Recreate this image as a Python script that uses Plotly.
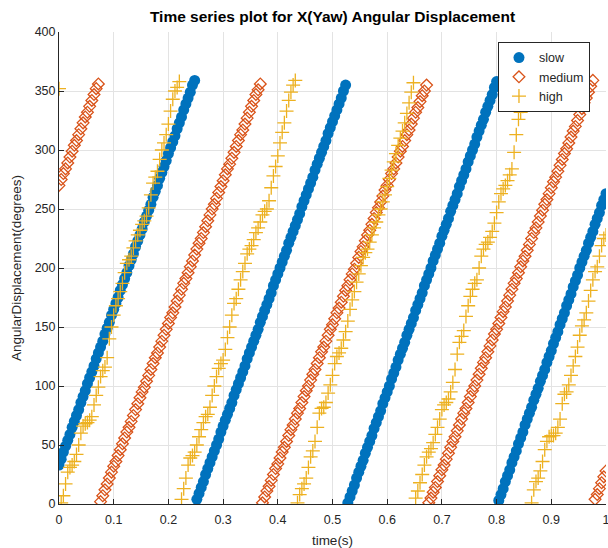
import numpy as np
import plotly.graph_objects as go

# sample times (s), 250 Hz
dt = 0.004
t = np.round(np.arange(251) * dt, 3)

slow = [
    33, 38, 44, 49, 54, 59, 65, 70, 75, 80, 86, 91, 96, 102, 107, 112, 117, 123, 128, 133,
    138, 144, 149, 154, 160, 165, 170, 175, 181, 186, 191, 196, 202, 207, 212, 218, 223, 228, 233, 239,
    244, 249, 254, 260, 265, 270, 276, 281, 286, 291, 297, 302, 307, 312, 318, 323, 328, 334, 339, 344,
    349, 355, 359, 4, 9, 14, 19, 25, 30, 35, 40, 45, 50, 55, 61, 66, 71, 76, 81, 86,
    92, 97, 102, 107, 112, 117, 123, 128, 133, 138, 143, 148, 154, 159, 164, 169, 174, 179, 185, 190,
    195, 200, 205, 210, 215, 221, 226, 231, 236, 241, 246, 252, 257, 262, 267, 272, 277, 283, 288, 293,
    298, 303, 308, 314, 319, 324, 329, 334, 339, 344, 350, 355, 1, 6, 11, 16, 22, 27, 32, 37,
    43, 48, 53, 58, 64, 69, 74, 79, 85, 90, 95, 100, 106, 111, 116, 122, 127, 132, 137, 143,
    148, 153, 158, 164, 169, 174, 179, 185, 190, 195, 200, 206, 211, 216, 221, 227, 232, 237, 242, 248,
    253, 258, 263, 269, 274, 279, 284, 290, 295, 300, 305, 311, 316, 321, 326, 332, 337, 342, 347, 353,
    358, 3, 8, 13, 19, 24, 29, 35, 40, 45, 51, 56, 61, 67, 72, 77, 82, 88, 93, 98,
    104, 109, 114, 120, 125, 130, 136, 141, 146, 152, 157, 162, 168, 173, 178, 184, 189, 194, 200, 205,
    210, 215, 221, 226, 231, 237, 242, 247, 253, 258, 263,
]

medium = [
    270, 275, 280, 284, 289, 294, 299, 304, 308, 313, 318, 323, 328, 332, 337, 342, 347, 352, 356, 2,
    7, 12, 17, 22, 27, 32, 36, 41, 46, 51, 56, 61, 65, 70, 75, 80, 85, 90, 95, 99,
    104, 109, 114, 119, 124, 128, 133, 138, 143, 148, 153, 158, 162, 167, 172, 177, 182, 187, 191, 196,
    201, 206, 211, 216, 221, 225, 230, 235, 240, 245, 250, 254, 259, 264, 269, 274, 279, 284, 288, 293,
    298, 303, 308, 313, 317, 322, 327, 332, 337, 342, 347, 351, 356, 1, 6, 11, 15, 20, 25, 30,
    34, 39, 44, 48, 53, 58, 63, 67, 72, 77, 81, 86, 91, 96, 100, 105, 110, 114, 119, 124,
    129, 133, 138, 143, 148, 152, 157, 162, 166, 171, 176, 181, 185, 190, 195, 199, 204, 209, 214, 218,
    223, 228, 232, 237, 242, 247, 251, 256, 261, 266, 270, 275, 280, 284, 289, 294, 299, 303, 308, 313,
    317, 322, 327, 332, 336, 341, 346, 350, 355, 1, 5, 10, 14, 19, 24, 29, 33, 38, 43, 48,
    53, 57, 62, 67, 72, 77, 81, 86, 91, 96, 100, 105, 110, 115, 120, 124, 129, 134, 139, 144,
    148, 153, 158, 163, 167, 172, 177, 182, 187, 191, 196, 201, 206, 210, 215, 220, 225, 230, 234, 239,
    244, 249, 254, 258, 263, 268, 273, 277, 282, 287, 292, 297, 301, 306, 311, 316, 320, 325, 330, 335,
    340, 344, 349, 354, 359, 4, 8, 13, 18, 23, 28,
]

high = [
    352, 1, 7, 17, 27, 31, 33, 36, 42, 50, 60, 66, 68, 69, 71, 74, 84, 92, 99, 108,
    113, 116, 124, 140, 150, 160, 168, 174, 180, 187, 196, 204, 207, 210, 217, 223, 228, 232, 237, 240,
    244, 251, 262, 272, 277, 282, 292, 300, 306, 313, 322, 333, 343, 350, 353, 358, 4, 13, 22, 33,
    39, 41, 44, 50, 57, 63, 69, 74, 76, 82, 92, 100, 108, 115, 119, 122, 131, 141, 150, 160,
    170, 174, 182, 190, 197, 204, 212, 216, 219, 224, 230, 234, 239, 245, 248, 250, 257, 268, 278, 286,
    295, 306, 315, 323, 333, 342, 349, 355, 359, 1, 8, 13, 17, 22, 31, 40, 45, 53, 65, 77,
    81, 82, 86, 94, 101, 109, 119, 125, 128, 132, 139, 146, 155, 165, 173, 180, 188, 195, 202, 209,
    213, 216, 222, 228, 234, 239, 245, 250, 256, 262, 269, 276, 283, 290, 297, 304, 310, 316, 323, 331,
    340, 349, 357, 5, 11, 18, 25, 33, 40, 44, 47, 52, 59, 65, 72, 80, 84, 86, 89, 95,
    103, 114, 127, 137, 142, 147, 159, 168, 176, 182, 187, 190, 200, 210, 216, 220, 222, 226, 231, 238,
    247, 256, 263, 267, 270, 274, 279, 284, 298, 313, 326, 332, 337, 341, 345, 355, 1, 12, 19, 22,
    28, 36, 46, 53, 57, 58, 58, 60, 65, 72, 85, 93, 95, 101, 109, 117, 125, 133, 143, 151,
    156, 162, 172, 181, 190, 197, 201, 210, 219, 225, 228,
]

x_ticks = [0, 0.1, 0.2, 0.3, 0.4, 0.5, 0.6, 0.7, 0.8, 0.9, 1]
x_tick_labels = ["0", "0.1", "0.2", "0.3", "0.4", "0.5", "0.6", "0.7", "0.8", "0.9", "1"]
y_ticks = [0, 50, 100, 150, 200, 250, 300, 350, 400]

fig = go.Figure()

fig.add_scatter(x=t, y=slow, mode="markers", name="slow",
                marker=dict(symbol="circle", size=11, color="#0072BD",
                            line=dict(width=0)))
fig.add_scatter(x=t, y=medium, mode="markers", name="medium",
                marker=dict(symbol="diamond-open", size=9, color="#D95319",
                            line=dict(width=1.3, color="#D95319")))
fig.add_scatter(x=t, y=high, mode="markers", name="high",
                marker=dict(symbol="cross-thin", size=10, color="#EDB120",
                            line=dict(width=1.3, color="#EDB120")))

axis_style = dict(showline=True, linecolor="#262626", linewidth=1,
                  ticks="inside", ticklen=5, tickcolor="#262626",
                  showgrid=True, gridcolor="#e3e3e3", gridwidth=1,
                  zeroline=False, automargin=False, ticklabeloverflow="allow",
                  tickfont=dict(size=12.5, color="#262626"))

fig.update_xaxes(range=[0, 1], tickvals=x_ticks, ticktext=x_tick_labels,
                 ticklabelstandoff=4,
                 title=dict(text="time(s)", font=dict(size=13.5, color="#262626"), standoff=12),
                 **axis_style)
fig.update_yaxes(range=[0, 400], tickvals=y_ticks,
                 title=dict(text="AngularDisplacement(degrees)", font=dict(size=13.5, color="#262626"), standoff=9),
                 **axis_style)

fig.update_layout(
    width=608, height=548,
    margin=dict(l=59, r=2, t=32, b=44),
    paper_bgcolor="white", plot_bgcolor="white",
    font=dict(family="Liberation Sans, Arial, sans-serif", color="#262626"),
    title=dict(text="<b>Time series plot for X(Yaw) Angular Displacement</b>",
               x=0.5, xref="paper", xanchor="center",
               y=1 - 17 / 548, yref="container", yanchor="middle",
               font=dict(size=15.5, color="black")),
    legend=dict(x=0.9707, y=0.979, xanchor="right", yanchor="top",
                bgcolor="white", bordercolor="#262626", borderwidth=1,
                font=dict(size=12.5, color="#262626"), itemwidth=30,
                tracegroupgap=0),
    showlegend=True,
)

# drop the browser's default 8px body margin so the figure sits at 0,0
fig.write_html("out.html", config={"displayModeBar": False},
               post_script="document.body.style.margin='0';")
